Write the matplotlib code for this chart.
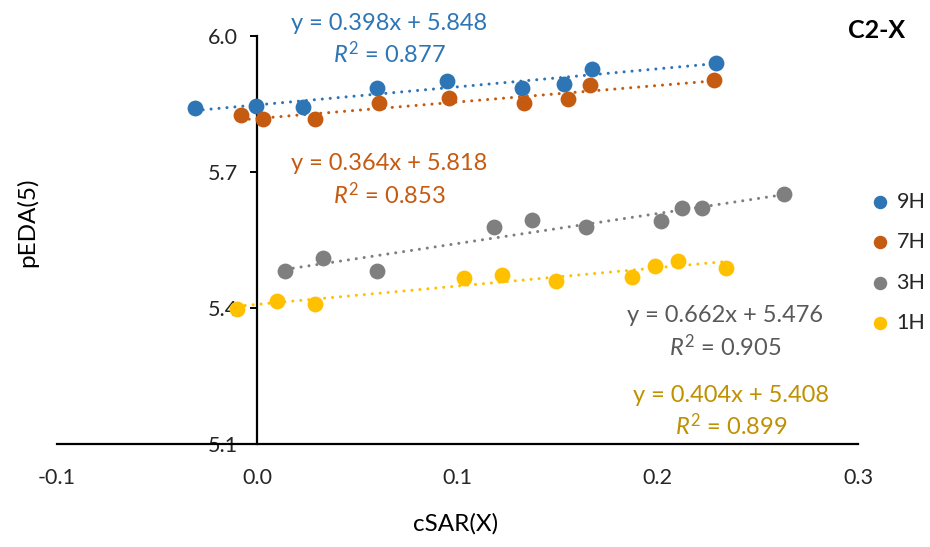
import matplotlib
matplotlib.use("Agg")
import matplotlib.pyplot as plt
import numpy as np

plt.rcParams['font.family'] = ['Lato', 'DejaVu Sans']
plt.rcParams['mathtext.fontset'] = 'custom'
plt.rcParams['mathtext.rm'] = 'Lato'
plt.rcParams['mathtext.it'] = 'Lato:italic'

# ---- data ----
series_names = ["9H", "7H", "3H", "1H"]

x_9H = [-0.031, -0.0005, 0.023, 0.060, 0.095, 0.132, 0.153, 0.167, 0.229]
y_9H = [5.841, 5.845, 5.843, 5.885, 5.901, 5.885, 5.894, 5.927, 5.940]

x_7H = [-0.008, 0.003, 0.029, 0.061, 0.096, 0.133, 0.155, 0.166, 0.228]
y_7H = [5.826, 5.817, 5.817, 5.852, 5.863, 5.852, 5.861, 5.892, 5.903]

x_3H = [0.014, 0.033, 0.060, 0.118, 0.137, 0.164, 0.2015, 0.212, 0.222, 0.263]
y_3H = [5.481, 5.510, 5.481, 5.578, 5.594, 5.578, 5.592, 5.620, 5.620, 5.651]

x_1H = [-0.010, 0.010, 0.029, 0.103, 0.122, 0.149, 0.187, 0.1985, 0.210, 0.234]
y_1H = [5.397, 5.415, 5.408, 5.466, 5.472, 5.459, 5.468, 5.492, 5.503, 5.488]

slopes = [0.398, 0.364, 0.662, 0.404]
intercepts = [5.848, 5.818, 5.476, 5.408]
r2_values = [0.877, 0.853, 0.905, 0.899]

x_ticks = [-0.1, 0.0, 0.1, 0.2, 0.3]
y_ticks = [5.1, 5.4, 5.7, 6.0]

# ---- style ----
marker_colors = ["#2E75B6", "#C55A11", "#7F7F7F", "#FFC000"]
text_colors = ["#2E75B6", "#C55A11", "#595959", "#BF9000"]
eq_pos = [(389, 23, 54), (389, 163, 195), (725, 315, 347), (731, 395, 426)]  # px x, y1, y2

W, H = 930, 547
fig = plt.figure(figsize=(W / 100, H / 100), dpi=100)
ax = fig.add_axes([57 / W, 1 - 444 / H, (858 - 57) / W, (444 - 36) / H])
ax.set_xlim(-0.1, 0.3)
ax.set_ylim(5.1, 6.0)

xs = [x_9H, x_7H, x_3H, x_1H]
ys = [y_9H, y_7H, y_3H, y_1H]

for name, xv, yv, c, m, b in zip(series_names, xs, ys, marker_colors, slopes, intercepts):
    xv = np.array(xv)
    xl = np.array([xv.min(), xv.max()])
    ax.plot(xl, m * xl + b, color=c, lw=2.2, linestyle=(0, (0.01, 2.6)),
            dash_capstyle='round', zorder=2)
    ax.scatter(xv, yv, s=130, color=c, zorder=3, label=name, linewidths=0)

# spines
for s in ['top', 'right']:
    ax.spines[s].set_visible(False)
ax.spines['left'].set_position(('data', 0))
ax.spines['left'].set_linewidth(1.6)
ax.spines['bottom'].set_linewidth(1.6)

ax.set_yticks(y_ticks)
ax.set_yticklabels([f"{v:.1f}" for v in y_ticks])
ax.set_xticks(x_ticks)
ax.set_xticklabels([f"{v:.1f}" for v in x_ticks])
ax.tick_params(axis='y', direction='out', length=5, width=1.4, pad=9,
               labelsize=15.5, colors='#000000', labelcolor='#262626')
ax.tick_params(axis='x', length=0, pad=17, labelsize=15.5, labelcolor='#262626')

# axis labels
fig.text(27 / W, 1 - 222 / H, "pEDA(5)", rotation=90, ha='center', va='center',
         fontsize=17.5, color='#000000')
fig.text(456 / W, 1 - 524 / H, "cSAR(X)", ha='center', va='center',
         fontsize=17.5, color='#000000')

# title
fig.text(877 / W, 1 - 31 / H, "C2-X", ha='center', va='center', fontsize=18,
         fontweight='bold', color='#000000')

# equations
for (px, py1, py2), m, b, r2, tc in zip(eq_pos, slopes, intercepts, r2_values, text_colors):
    fig.text(px / W, 1 - py1 / H, f"y = {m:.3f}x + {b:.3f}", ha='center', va='center',
             fontsize=17, color=tc)
    fig.text(px / W, 1 - py2 / H, f"$\\mathit{{R}}^{{2}}$ = {r2:.3f}", ha='center', va='center',
             fontsize=17, color=tc)

# legend
leg = ax.legend(loc='upper left', bbox_to_anchor=(861 / W, 1 - 183 / H),
                bbox_transform=fig.transFigure, frameon=False, fontsize=15.5,
                handletextpad=0.25, labelspacing=0.95, markerscale=0.85,
                handlelength=1.0, borderaxespad=0)
for t in leg.get_texts():
    t.set_color('#262626')

fig.savefig("out.png", dpi=100)
